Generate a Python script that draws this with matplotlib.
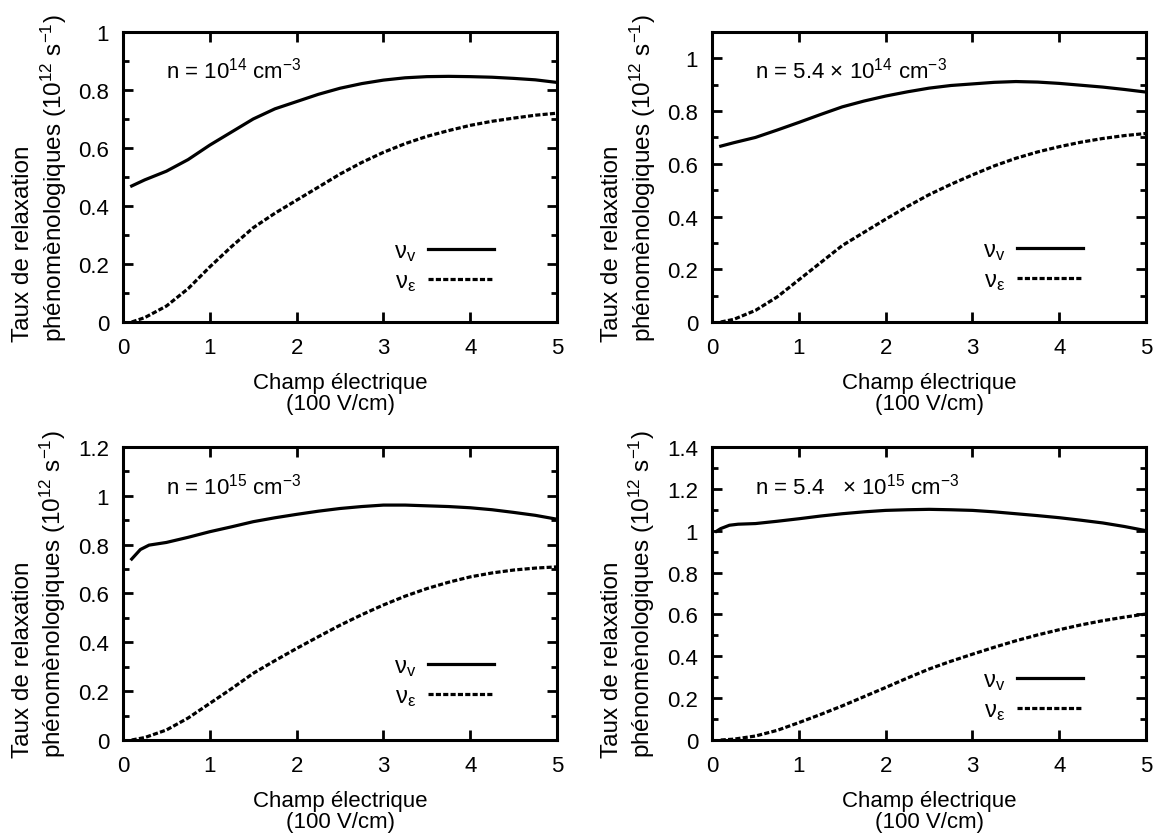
import matplotlib
matplotlib.use('Agg')
import matplotlib.pyplot as plt

plt.rcParams['font.family'] = ['Liberation Sans', 'DejaVu Sans']
plt.rcParams['mathtext.fontset'] = 'custom'
plt.rcParams['mathtext.rm'] = 'Liberation Sans'
plt.rcParams['mathtext.it'] = 'Liberation Sans:italic'
plt.rcParams['mathtext.bf'] = 'Liberation Sans:bold'

###################################
# data (E in 100 V/cm, rates in 1e12 s^-1)

x_grid = [0.1, 0.25, 0.5, 0.75, 1.0, 1.25, 1.5, 1.75, 2.0, 2.25, 2.5,
          2.75, 3.0, 3.25, 3.5, 3.75, 4.0, 4.25, 4.5, 4.75, 5.0]

nu_v_1e14 = [0.469, 0.49, 0.52, 0.56, 0.61, 0.655, 0.70, 0.735, 0.76, 0.785, 0.806,
             0.822, 0.834, 0.842, 0.846, 0.847, 0.846, 0.844, 0.84, 0.835, 0.826]
nu_e_1e14 = [0.0, 0.015, 0.055, 0.115, 0.19, 0.26, 0.325, 0.375, 0.42, 0.465, 0.51,
             0.55, 0.585, 0.615, 0.64, 0.66, 0.678, 0.692, 0.703, 0.713, 0.72]

nu_v_54e14 = [0.667, 0.68, 0.70, 0.728, 0.757, 0.787, 0.816, 0.838, 0.857, 0.873, 0.887,
              0.897, 0.903, 0.909, 0.912, 0.91, 0.905, 0.898, 0.891, 0.882, 0.872]
nu_e_54e14 = [0.0, 0.01, 0.044, 0.095, 0.16, 0.225, 0.29, 0.34, 0.39, 0.438, 0.483,
              0.522, 0.558, 0.592, 0.621, 0.645, 0.665, 0.682, 0.696, 0.707, 0.715]

x_v_1e15 = [0.1, 0.2, 0.3, 0.5, 0.75, 1.0, 1.25, 1.5, 1.75, 2.0, 2.25, 2.5,
            2.75, 3.0, 3.25, 3.5, 3.75, 4.0, 4.25, 4.5, 4.75, 5.0]
nu_v_1e15 = [0.741, 0.78, 0.798, 0.809, 0.83, 0.853, 0.873, 0.894, 0.91, 0.924, 0.937, 0.948,
             0.956, 0.962, 0.962, 0.959, 0.956, 0.951, 0.943, 0.932, 0.92, 0.904]
nu_e_1e15 = [0.0, 0.01, 0.041, 0.09, 0.15, 0.21, 0.273, 0.325, 0.375, 0.423, 0.47,
             0.513, 0.553, 0.589, 0.62, 0.646, 0.668, 0.684, 0.696, 0.704, 0.709]

x_v_54e15 = [0.05, 0.1, 0.2, 0.3, 0.5, 0.75, 1.0, 1.25, 1.5, 1.75, 2.0, 2.25, 2.5,
             2.75, 3.0, 3.25, 3.5, 3.75, 4.0, 4.25, 4.5, 4.75, 5.0]
nu_v_54e15 = [0.997, 1.01, 1.026, 1.031, 1.034, 1.045, 1.057, 1.07, 1.081, 1.09, 1.097, 1.1, 1.102,
              1.1, 1.097, 1.09, 1.081, 1.072, 1.062, 1.05, 1.037, 1.02, 1.0]
nu_e_54e15 = [0.0, 0.004, 0.019, 0.046, 0.083, 0.122, 0.163, 0.207, 0.251, 0.296, 0.339,
              0.376, 0.41, 0.443, 0.474, 0.502, 0.527, 0.55, 0.57, 0.587, 0.602]

labels_n = ['n = 10$^{14}$ cm$^{-3}$',
            'n = 5.4 \u00d7 10$^{14}$ cm$^{-3}$',
            'n = 10$^{15}$ cm$^{-3}$',
            'n = 5.4   \u00d7 10$^{15}$ cm$^{-3}$']
y_tops = [1.0, 1.1, 1.2, 1.4]

###################################

def setup_axes(ax, ytop):
    ax.set_xlim(0, 5)
    ax.set_ylim(0, ytop)
    ax.set_xticks([0, 1, 2, 3, 4, 5])
    ax.set_xticklabels(['0', '1', '2', '3', '4', '5'])
    yt = [round(0.2 * i, 1) for i in range(int(ytop / 0.2 + 1e-6) + 1)]
    ax.set_yticks(yt)
    ax.set_yticklabels(['%g' % v for v in yt])
    ax.set_yticks([round(0.1 * i, 1) for i in range(int(ytop / 0.1 + 1e-6) + 1)], minor=True)
    ax.tick_params(which='both', direction='in', top=True, right=True, width=2, labelsize=16)
    ax.tick_params(which='major', length=7, pad=10)
    ax.tick_params(axis='x', which='major', pad=11)
    ax.tick_params(which='minor', length=4)
    for s in ax.spines.values():
        s.set_linewidth(2.2)
    ax.set_xlabel('Champ \u00e9lectrique\n(100 V/cm)', fontsize=16, linespacing=1.0, labelpad=10)
    ax.set_ylabel('Taux de relaxation\nph\u00e9nom\u00e8nologiques (10$^{12}$ s$^{-1}$)',
                  fontsize=17.5, linespacing=1.2, multialignment='left', labelpad=7)


def plot_panel(ax, xv, yv, xe, ye, text, ytop, leg_y):
    ax.plot(xv, yv, color='black', lw=2.3, label='\u03bd$_\\mathrm{v}$')
    ax.plot(xe, ye, color='black', lw=2.3, linestyle=(0, (1.6, 0.7)), label='\u03bd$_\\mathrm{\u03b5}$')
    setup_axes(ax, ytop)
    ax.text(0.10, 0.87, text, transform=ax.transAxes, fontsize=16, va='center', ha='left')
    ax.legend(loc='center right', bbox_to_anchor=(0.855, leg_y), frameon=False,
              markerfirst=False, fontsize=17, handlelength=2.8, handletextpad=0.5,
              labelspacing=0.3, borderpad=0, borderaxespad=0)

###################################

fig = plt.figure(figsize=(11.55, 8.37), dpi=100)

ax1 = fig.add_axes([0.1065, 0.6141, 0.3758, 0.3465])
ax2 = fig.add_axes([0.6165, 0.6141, 0.3758, 0.3465])
ax3 = fig.add_axes([0.1065, 0.1147, 0.3758, 0.3501])
ax4 = fig.add_axes([0.6165, 0.1147, 0.3758, 0.3501])

plot_panel(ax1, x_grid, nu_v_1e14, x_grid, nu_e_1e14, labels_n[0], y_tops[0], 0.19)
plot_panel(ax2, x_grid, nu_v_54e14, x_grid, nu_e_54e14, labels_n[1], y_tops[1], 0.195)
plot_panel(ax3, x_v_1e15, nu_v_1e15, x_grid, nu_e_1e15, labels_n[2], y_tops[2], 0.2)
plot_panel(ax4, x_v_54e15, nu_v_54e15, x_grid, nu_e_54e15, labels_n[3], y_tops[3], 0.15)

fig.savefig('out.png', dpi=100)
